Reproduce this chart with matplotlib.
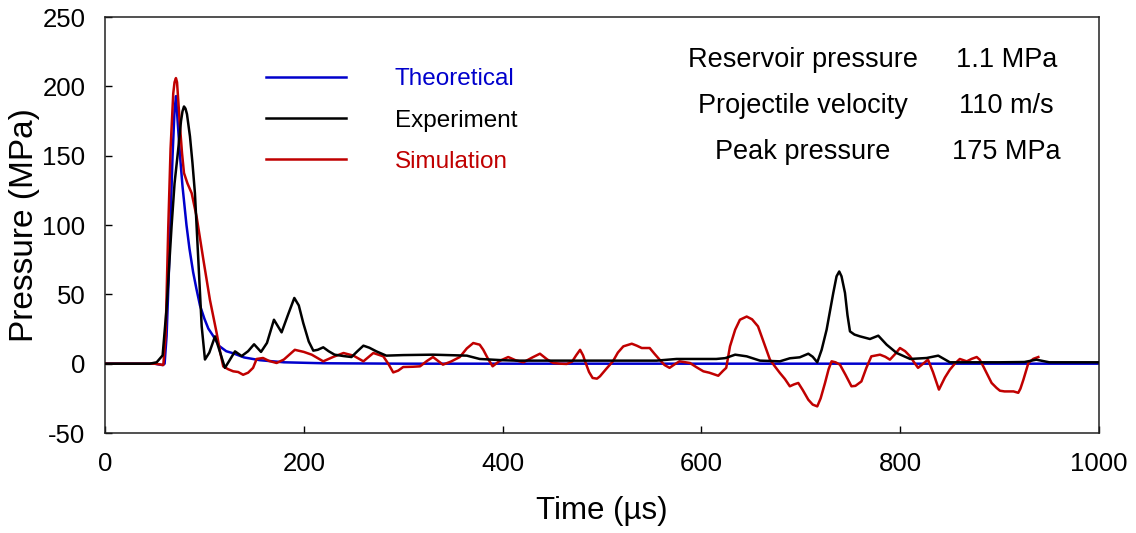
import matplotlib
matplotlib.use("Agg")
import matplotlib.pyplot as plt
from matplotlib.lines import Line2D

plt.rcParams['font.family'] = ['Liberation Sans', 'DejaVu Sans']
plt.rcParams['axes.unicode_minus'] = False

# theoretical pressure pulse
theory_t = [0, 50, 58, 60, 62, 64, 66, 68, 70, 71.5, 73, 75.5, 78, 82, 85, 88.7, 92, 95.6,
            100, 104, 108.9, 115, 122, 129, 140, 156, 180, 220, 300, 1000]
theory_p = [0, 0, -1, 0, 20, 60, 105, 150, 183, 193, 176, 150, 128, 100, 83, 66, 54, 42,
            32.5, 25.3, 20, 12.7, 9, 7.5, 4.5, 2.5, 1, 0.3, 0, 0]

# measured pressure
exp_t = [0, 45, 52, 58, 62, 67, 70, 73.6, 76.5, 78, 79.5, 81, 82.5, 85.5, 88, 90.5, 93.9, 97.3,
         100.6, 105, 110.7, 115, 120.7, 125, 130.8, 137.5, 144, 150, 157, 163, 170, 177.7, 184,
         190.5, 195, 199.5, 205, 209.6, 214, 219.6, 225, 231, 240, 248, 254, 260, 266, 273, 283,
         300, 330, 364, 377, 400, 414, 481, 555, 575, 615, 624, 634, 645.6, 659, 679, 689, 699,
         707.6, 712, 716.6, 721, 726, 732.7, 736, 738.7, 741, 744.5, 747, 749.5, 754, 759.6,
         769.6, 778, 786.4, 796.5, 810, 826.6, 838.3, 850, 900, 925, 937, 950, 1000]
exp_p = [0, 0, 1, 6, 40, 99, 130, 154, 175, 182, 185.5, 184, 180, 164, 145, 123, 75, 27,
         3, 8, 19.7, 10, -3, 2, 8.9, 5.5, 9, 14, 8.5, 15, 31.7, 22.6, 35,
         47.4, 42, 29.3, 16, 9.4, 10, 11.8, 9, 6.5, 5.5, 4.8, 9, 13, 11.5, 8.9, 5.8,
         6.2, 6.5, 5.8, 3.4, 2.5, 2.2, 2.2, 2.2, 3.4, 3.4, 4, 6.5, 5.3, 2.2, 1.7, 3.9, 4.6,
         7.2, 5, 1, 10, 24.5, 51, 63, 66.5, 63, 51, 35, 23.3, 21, 19.7,
         17.8, 20.2, 13.7, 7.7, 3.4, 4.1, 5.8, 1, 1, 1.2, 2.9, 1, 1]

# simulated pressure
sim_t = [0, 50, 55, 58.7, 61, 63.7, 66, 68.7, 70, 71.4, 72.5, 73.5, 75.5, 77.5, 79.5, 83, 87.2,
         92.2, 95.5, 99, 105.6, 112.4, 116, 119, 124, 129, 134, 139, 144, 149, 152.6, 159, 165,
         172.7, 180, 191, 200, 208, 214, 219.6, 230, 240, 250, 260, 270, 280, 285, 290, 295,
         300, 310, 317, 324, 330, 335, 340, 348, 357, 364, 370.5, 377, 380.6, 385, 390, 397,
         405.7, 413, 421, 430, 437.6, 445, 451, 458, 464.5, 470, 474, 478, 481, 483, 487,
         490.6, 495, 498, 504, 511, 516, 521.5, 530, 535, 540, 548, 553, 558, 563, 568, 573,
         578, 588.5, 595, 602, 608, 617, 622, 625, 628.8, 634, 638.8, 645.6, 651, 657, 663,
         669, 674, 679, 684, 689, 693, 697.5, 702, 707.6, 712, 716.6, 720, 724.4, 728, 731,
         735, 739.4, 745, 751, 755, 761, 766, 771, 779.7, 785, 789.7, 795, 799.8, 805, 810,
         814, 818, 823, 828, 833, 839, 845, 850, 855, 860, 867, 872, 877, 880, 883.6, 887,
         892, 897, 900.4, 905, 914, 918.8, 921, 924, 929, 934, 939]
sim_p = [0, 0, -0.5, -1, 20, 99, 155, 195, 203, 206, 203, 192, 171, 152, 137.5, 130, 123,
         106, 91, 75, 46, 22, 8, -2, -4, -5.5, -6, -8, -6.5, -3, 3.4, 4.1, 2,
         0.5, 3, 10, 8.5, 6.5, 4, 1.7, 5, 7.7, 5.8, 1.7, 7.7, 5.3, 0, -6.3, -5,
         -2.4, -2.2, -1.9, 2, 4.8, 2, -0.7, 1.5, 4.8, 11, 14.9, 13.7, 10, 4, -1.9, 2,
         4.8, 2.5, 1, 4.5, 7.2, 3, 0.5, 0, -0.2, 1.5, 6, 10, 6, 1.7, -6,
         -10.3, -10.8, -9.1, -4, 1.7, 8, 12.5, 14.4, 13, 11.3, 11.3, 7, 2.9, -1, -3, -0.5,
         1.7, 0.5, -2.5, -5.5, -6.5, -8.7, -5, -3, 12.5, 24.5, 31.7, 34, 32, 26.9, 15,
         2.9, -2, -6.7, -11, -16.3, -15, -13.9, -19, -26, -29.5, -30.8, -25, -13.9, -4, 1.7,
         1, -0.7, -8, -16.3, -16, -12.8, -3, 5.3, 6.5, 5, 2.9, 7, 11.3, 9, 5.3,
         1, -3, 0, 2.9, -6, -18.7, -10, -4.3, 0, 3.4, 1.7, 3.5, 4.8, 2.9, -1.9, -6.7,
         -13.9, -17.5, -19.5, -20, -20, -21, -18, -11.5, 0.5, 3.5, 4.8]

series_names = ['Theoretical', 'Experiment', 'Simulation']
series_colors = ['#0000CC', '#000000', '#C00000']

info_labels = ['Reservoir pressure', 'Projectile velocity', 'Peak pressure']
info_values = ['1.1 MPa', '110 m/s', '175 MPa']


def main():
    fig = plt.figure(figsize=(11.36, 5.33), dpi=100)
    ax = fig.add_axes([0.0924, 0.1876, 0.875, 0.7804])

    ax.plot(theory_t, theory_p, color=series_colors[0], lw=1.8, zorder=2)
    ax.plot(sim_t, sim_p, color=series_colors[2], lw=1.8, zorder=3)
    ax.plot(exp_t, exp_p, color=series_colors[1], lw=1.8, zorder=4)

    ax.set_xlim(0, 1000)
    ax.set_ylim(-50, 250)
    ax.set_xticks(range(0, 1001, 200))
    ax.set_yticks(range(-50, 251, 50))
    ax.tick_params(direction='in', length=5, width=1, labelsize=18.5, pad=14,
                   top=False, right=False)
    for s in ax.spines.values():
        s.set_linewidth(1.1)
        s.set_color('#222222')

    ax.set_xlabel('Time (µs)', fontsize=22.5, labelpad=14)
    ax.set_ylabel('Pressure (MPa)', fontsize=24, labelpad=2)

    handles = [Line2D([], [], color=c, lw=1.8) for c in series_colors]
    ax.legend(handles, series_names, loc='upper left', bbox_to_anchor=(0.14, 0.93),
              frameon=False, fontsize=17.5, handlelength=3.3, handletextpad=2.0,
              labelspacing=0.8, labelcolor=series_colors)

    for i in range(len(info_labels)):
        y = 219 - i * 33
        ax.text(702, y, info_labels[i], ha='center', va='center', fontsize=19.5)
        ax.text(907, y, info_values[i], ha='center', va='center', fontsize=19.5)

    fig.savefig('out.png', dpi=100)


if __name__ == "__main__":
    main()
